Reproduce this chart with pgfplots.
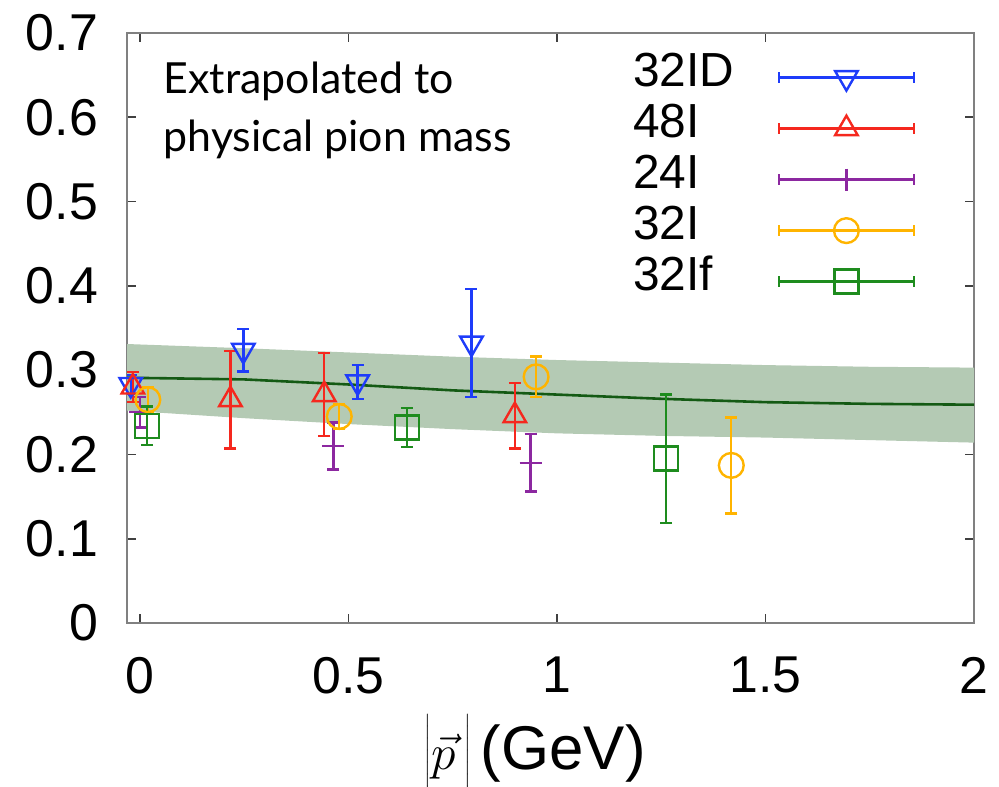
\documentclass[border=0pt]{standalone}
\usepackage{pgfplots}
\pgfplotsset{compat=1.18}
\usepackage{fontspec}
\setmainfont{Liberation Sans}
\newfontfamily\notefont{Lato}

\definecolor{cID}{RGB}{30,60,250}
\definecolor{cFortyEight}{RGB}{245,40,30}
\definecolor{cTwentyFour}{RGB}{140,40,160}
\definecolor{cThirtyTwo}{RGB}{255,180,0}
\definecolor{cThirtyTwoF}{RGB}{30,140,30}
\definecolor{bandfill}{RGB}{180,202,180}
\definecolor{bandline}{RGB}{20,90,20}

\pgfplotsset{
  latticeset/.style={
    only marks, line width=1.2bp,
    error bars/y dir=both, error bars/y explicit,
    error bars/error bar style={line width=1.2bp},
    error bars/error mark options={rotate=90, mark size=3bp, line width=1.2bp},
  },
}

\begin{document}
\begin{tikzpicture}
\begin{axis}[
  at={(0,0)}, anchor=south west,
  scale only axis, width=423.5bp, height=295bp,
  xmin=-0.031, xmax=2, ymin=0, ymax=0.7,
  xtick={0,0.5,1,1.5,2},
  ytick={0,0.1,0.2,0.3,0.4,0.5,0.6,0.7},
  yticklabels={0,0.1,0.2,0.3,0.4,0.5,0.6,0.7},
  xticklabels={0,0.5,1,1.5,2},
  tick align=inside, major tick length=4.5bp,
  major tick style={black!75, line width=0.8bp},
  axis line style={gray, line width=1bp},
  ticklabel style={font=\fontsize{26}{26}\selectfont},
  xticklabel style={yshift=-13.5bp},
  yticklabel style={xshift=-11bp},
  xlabel={{\fontsize{38}{38}\selectfont$\left|\vec{p}\rule{0pt}{27bp}\,\right|$}\,(GeV)},
  xlabel style={at={(axis description cs:0.482,0)}, anchor=base, yshift=-73bp,
    font=\fontsize{31}{31}\selectfont},
  legend plot pos=right,
  legend cell align=left,
  legend style={draw=none, fill=none, at={(axis description cs:0.59,0.975)},
    anchor=north west, font=\fontsize{24}{24}\selectfont, row sep=0pt,
    nodes={inner sep=0pt, text height=17bp, text depth=8.5bp}},
  legend image code/.code={
    \path (0bp,0bp);
    \draw[#1, mark=none, line width=1.2bp] (21.8bp,0bp) -- (89.3bp,0bp);
    \draw[#1, mark=none, line width=1.2bp] (21.8bp,-2.6bp) -- (21.8bp,2.6bp)
      (89.3bp,-2.6bp) -- (89.3bp,2.6bp);
    \draw[#1, line width=1.2bp] plot coordinates {(55.55bp,0bp)};
  },
]

% uncertainty band of the extrapolation
\addplot[fill=bandfill, draw=none, forget plot] coordinates {
  (-0.031,0.331) (0.25,0.326) (0.5,0.321) (0.75,0.316) (1.0,0.312)
  (1.25,0.309) (1.5,0.306) (1.75,0.304) (2.0,0.303)
  (2.0,0.214) (1.75,0.217) (1.5,0.220) (1.25,0.222) (1.0,0.225)
  (0.75,0.230) (0.5,0.236) (0.25,0.243) (-0.031,0.252)
} -- cycle;

% central value
\addplot[bandline, line width=1.3bp, forget plot] coordinates {
  (-0.031,0.291) (0.25,0.289) (0.5,0.283) (0.75,0.276) (1.0,0.271)
  (1.25,0.266) (1.5,0.262) (1.75,0.260) (2.0,0.259)
};

\addplot[cID, latticeset, mark=triangle, mark size=6.5bp,
  mark options={rotate=180, solid}] table[x=x, y=y, y error=e] {
  x       y       e
  -0.022  0.283   0.011
  0.248   0.3235  0.025
  0.522   0.286   0.020
  0.795   0.332   0.064
};
\addlegendentry{32ID}

\addplot[cFortyEight, latticeset, mark=triangle, mark size=6.5bp]
  table[x=x, y=y, y error=e] {
  x       y       e
  -0.017  0.280   0.018
  0.217   0.265   0.058
  0.442   0.271   0.049
  0.899   0.246   0.039
};
\addlegendentry{48I}

\addplot[cTwentyFour, latticeset, mark=+, mark size=5.5bp]
  table[x=x, y=y, y error=e] {
  x       y       e
  0.000   0.250   0.018
  0.464   0.210   0.028
  0.937   0.190   0.034
};
\addlegendentry{24I}

\addplot[cThirtyTwo, latticeset, mark=o, mark size=6.2bp]
  table[x=x, y=y, y error=e] {
  x       y       e
  0.019   0.265   0.015
  0.478   0.245   0.015
  0.950   0.292   0.024
  1.418   0.187   0.057
};
\addlegendentry{32I}

\addplot[cThirtyTwoF, latticeset, mark=square, mark size=6bp]
  table[x=x, y=y, y error=e] {
  x       y       e
  0.017   0.234   0.023
  0.640   0.232   0.023
  1.262   0.195   0.076
};
\addlegendentry{32If}

\node[anchor=north west, align=left, inner sep=0pt,
  font=\notefont\fontsize{21.5}{29}\selectfont]
  at (axis description cs:0.043,0.952) {Extrapolated to\\physical pion mass};
\end{axis}
\pgfresetboundingbox
\path[use as bounding box] (-63.5bp,-82bp) rectangle (436bp,311.5bp);
\end{tikzpicture}
\end{document}
